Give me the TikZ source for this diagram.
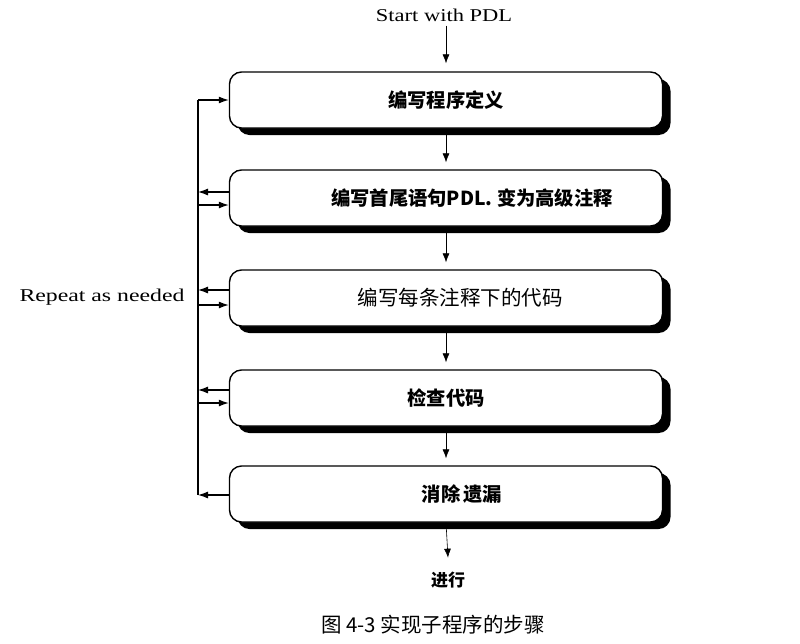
\documentclass[tikz,border=0pt]{standalone}
\usepackage{fontspec}
\setmainfont{Liberation Serif}
\newfontfamily\cjk{Noto Sans CJK SC}
\newfontfamily\wideserif[FakeStretch=1.25]{Liberation Serif}
\newfontfamily\widerserif[FakeStretch=1.32]{Liberation Serif}
\usetikzlibrary{arrows.meta,shadows,calc}
\tikzset{
  stepbox/.style={draw, line width=1.4pt, rounded corners=12pt, fill=white,
    minimum width=433pt, minimum height=56pt, inner sep=0pt,
    font=\cjk\bfseries\fontsize{19.3}{21}\selectfont,
    general shadow={fill=black, shadow xshift=8pt, shadow yshift=-7pt}},
  arr/.style={line width=1.2pt, -{Latex[length=10pt,width=7pt]}},
  thinarr/.style={line width=0.6pt, -{Latex[length=9pt,width=7pt]}},
  lbl/.style={inner sep=0pt}
}
\begin{document}
\begin{tikzpicture}[x=1pt,y=-1pt]
\useasboundingbox (0,0) rectangle (800,643);
% boxes
\node[stepbox] (b1) at (446,100) {编写程序定义};
\node[stepbox] (b2) at (446,198) {\hspace*{52pt}编写首尾语句PDL. 变为高级注释};
\node[stepbox, font=\cjk\fontsize{20.5}{22}\selectfont] (b3) at (446,298) {\hspace*{28pt}编写每条注释下的代码};
\node[stepbox] (b4) at (446,398) {检查代码};
\node[stepbox] (b5) at (446,494) {\hspace*{32pt}消除\,遗漏};
% top / bottom texts
\node[lbl, font=\wideserif\fontsize{18}{20}\selectfont] (start) at (444,15) {Start with PDL};
\node[lbl, font=\cjk\bfseries\fontsize{17}{20}\selectfont] (go) at (448,580) {进行};
\node[lbl, font=\cjk\fontsize{20.5}{22}\selectfont] (cap) at (433,625) {图 4-3 实现子程序的步骤};
\node[lbl, font=\widerserif\fontsize{18}{20}\selectfont] (rep) at (102,297) {Repeat as needed};
% main flow arrows
\draw[thinarr] ($(start.south)+(2pt,-4pt)$) -- ($(b1.north)+(0pt,8pt)$);
\draw[thinarr] (b1.south) -- ($(b2.north)+(0pt,7pt)$);
\draw[thinarr] (b2.south) -- ($(b3.north)+(0pt,7pt)$);
\draw[thinarr] (b3.south) -- ($(b4.north)+(0pt,7pt)$);
\draw[thinarr] (b4.south) -- ($(b5.north)+(0pt,7pt)$);
\draw[thinarr] (b5.south) -- ($(go.north)+(0pt,14pt)$);
% feedback line
\coordinate (top) at (198,100);
\coordinate (bot) at (198,495);
\draw[line width=1.2pt] (top) -- (bot);
\draw[arr] (top) -- (top -| b1.west);
\foreach \b/\o/\i in {b2/192/205, b3/290/305, b4/390/403}{
  \draw[arr] (\b.west |- 0,\o) -- (198,\o);
  \draw[arr] (198,\i) -- (\b.west |- 0,\i);
}
\draw[arr] (b5.west |- bot) -- (bot);
\end{tikzpicture}
\end{document}
